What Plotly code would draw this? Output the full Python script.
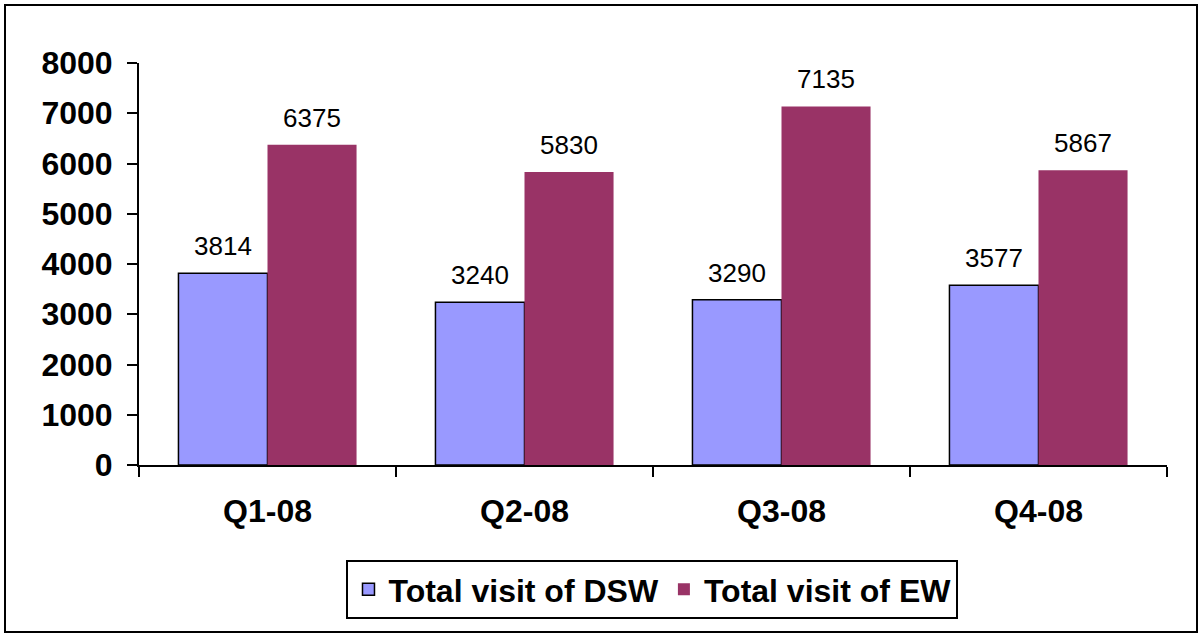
import plotly.graph_objects as go

quarters = ["Q1-08", "Q2-08", "Q3-08", "Q4-08"]
dsw_visits = [3814, 3240, 3290, 3577]
ew_visits = [6375, 5830, 7135, 5867]
y_ticks = [0, 1000, 2000, 3000, 4000, 5000, 6000, 7000, 8000]

FONT = "Liberation Sans, Arial, sans-serif"
BAR_GAP = 0.307
half = (1 - BAR_GAP) / 4  # offset of each bar centre from the category centre

fig = go.Figure()
fig.add_trace(go.Bar(
    x=quarters, y=dsw_visits, name="Total visit of DSW",
    marker=dict(color="#9999FF", line=dict(color="black", width=1.5)),
))
fig.add_trace(go.Bar(
    x=quarters, y=ew_visits, name="Total visit of EW",
    marker=dict(color="#993366", line=dict(color="#993366", width=0)),
))

# value labels above every bar
annotations = []
for i, (a, b) in enumerate(zip(dsw_visits, ew_visits)):
    for xpos, v in ((i - half, a), (i + half, b)):
        annotations.append(dict(
            x=xpos, y=v, xref="x", yref="y", text=str(v), showarrow=False,
            yanchor="bottom", yshift=10,
            font=dict(family=FONT, size=26, color="black"),
        ))

L, R, T, B = 139, 33, 63, 170
W, H = 1200, 635
pw, ph = W - L - R, H - T - B

def px_x(p):
    return (p - L) / pw

def px_y(p):
    return (H - B - p) / ph

fig.update_layout(
    width=W, height=H,
    margin=dict(l=L, r=R, t=T, b=B),
    paper_bgcolor="white", plot_bgcolor="white",
    barmode="group", bargap=BAR_GAP, bargroupgap=0,
    font=dict(family=FONT, color="black"),
    annotations=annotations,
    showlegend=True,
    legend=dict(
        orientation="h", x=0.4995, xanchor="center", y=px_y(560), yanchor="top",
        bordercolor="black", borderwidth=2, bgcolor="white",
        font=dict(family=FONT, size=32, color="black", weight="bold"),
        itemwidth=30, tracegroupgap=0,
    ),
    shapes=[dict(
        type="rect", xref="paper", yref="paper",
        x0=px_x(5), x1=px_x(1197), y0=px_y(632), y1=px_y(5),
        line=dict(color="black", width=2), fillcolor="rgba(0,0,0,0)", layer="below",
    )],
)

fig.update_xaxes(
    showline=True, linecolor="black", linewidth=2,
    ticks="outside", tickson="boundaries", ticklen=10, tickwidth=2, tickcolor="black",
    tickfont=dict(family=FONT, size=32, color="black", weight="bold"),
    ticklabelstandoff=17, showgrid=False, zeroline=False,
)
fig.update_yaxes(
    range=[0, 8000], tickvals=y_ticks, showline=True, linecolor="black", linewidth=2,
    ticks="outside", ticklen=10, tickwidth=2, tickcolor="black",
    tickfont=dict(family=FONT, size=32, color="black", weight="bold"),
    ticklabelstandoff=8, showgrid=False, zeroline=False,
)

fig.write_html("out.html")
